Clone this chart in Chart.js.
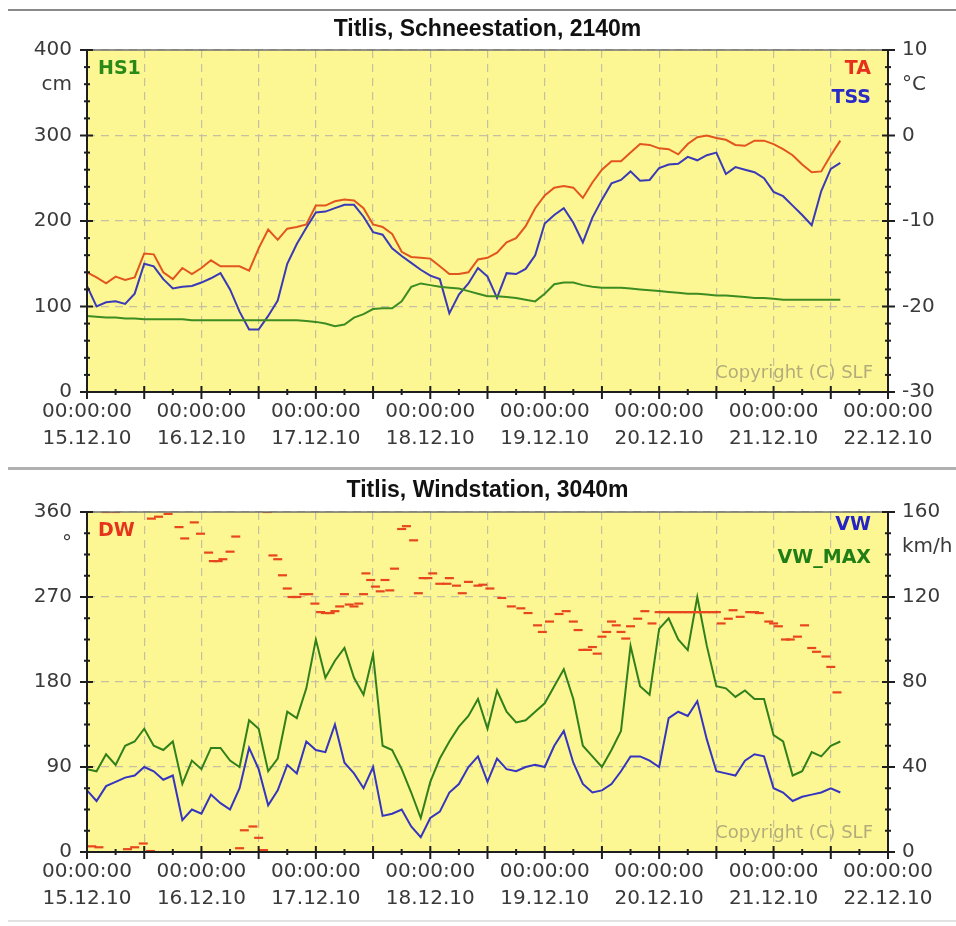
<!DOCTYPE html>
<html>
<head>
<meta charset="utf-8">
<title>Titlis</title>
<script src="https://cdn.jsdelivr.net/npm/chart.js@4.4.1/dist/chart.umd.min.js"></script>
<style>
  html, body { margin: 0; padding: 0; background: #ffffff; }
  body { width: 956px; height: 926px; position: relative; overflow: hidden; }
  .rule { position: absolute; left: 8px; right: 0; }
  #ruleTop { top: 9px; height: 2px; background: #8a8a8a; }
  #ruleMid { top: 467px; height: 3px; background: #b0b0b0; }
  #ruleEnd { top: 920px; height: 2px; background: #e2e2e2; }
  canvas { position: absolute; left: 0; }
  #snowChart { top: 11px; }
  #windChart { top: 471px; }
</style>
</head>
<body>
<div class="rule" id="ruleTop"></div>
<div class="rule" id="ruleMid"></div>
<div class="rule" id="ruleEnd"></div>
<canvas id="snowChart" width="956" height="456"></canvas>
<canvas id="windChart" width="956" height="449"></canvas>
<script>
// Hours between two samples of the station series (first sample: 15.12.10 00:00)
const STEP_H = 2;

// Day labels of the time axis
const dayLabels = ['15.12.10', '16.12.10', '17.12.10', '18.12.10', '19.12.10', '20.12.10', '21.12.10', '22.12.10'];

// Schneestation 2140 m: snow height HS1 [cm]
const hs1 = [89, 88, 87, 87, 86, 86, 85, 85, 85, 85, 85, 84, 84, 84, 84, 84, 84, 84, 84, 84,
             84, 84, 84, 83, 82, 80, 77, 79, 87, 91, 97, 98, 98, 106, 123, 127, 125, 123, 122, 121,
             118, 115, 112, 112, 111, 110, 108, 106, 115, 126, 128, 128, 125, 123, 122, 122, 122, 121, 120, 119,
             118, 117, 116, 115, 115, 114, 113, 113, 112, 111, 110, 110, 109, 108, 108, 108, 108, 108, 108, 108];

// Air temperature TA [°C]
const ta = [-16.0, -16.6, -17.3, -16.5, -16.9, -16.6, -13.8, -13.9, -16.0, -16.8,
            -15.5, -16.2, -15.5, -14.6, -15.3, -15.3, -15.3, -15.8, -13.2, -11.0,
            -12.2, -10.9, -10.7, -10.4, -8.2, -8.2, -7.7, -7.5, -7.6, -8.5,
            -10.4, -10.7, -11.5, -13.6, -14.2, -14.3, -14.4, -15.3, -16.2, -16.2,
            -16.0, -14.5, -14.3, -13.7, -12.5, -12.0, -10.6, -8.5, -7.0, -6.1,
            -5.9, -6.1, -7.3, -5.5, -4.0, -3.0, -3.0, -2.0, -1.0, -1.1,
            -1.5, -1.6, -2.2, -1.0, -0.2, 0.0, -0.3, -0.5, -1.1, -1.2,
            -0.6, -0.6, -1.0, -1.6, -2.3, -3.4, -4.3, -4.2, -2.3, -0.6];

// Snow surface temperature TSS [°C]
const tss = [-17.6, -20.0, -19.5, -19.4, -19.7, -18.5, -15.0, -15.3, -16.8, -17.9,
             -17.7, -17.6, -17.2, -16.7, -16.1, -18.0, -20.6, -22.7, -22.7, -21.1,
             -19.3, -15.0, -12.7, -10.8, -9.0, -8.9, -8.5, -8.1, -8.1, -9.5,
             -11.3, -11.6, -13.2, -14.1, -14.9, -15.7, -16.4, -16.8, -20.8, -18.6,
             -17.3, -15.5, -16.5, -19.0, -16.1, -16.2, -15.6, -14.0, -10.3, -9.3,
             -8.5, -10.2, -12.5, -9.6, -7.5, -5.6, -5.2, -4.2, -5.3, -5.2,
             -3.8, -3.4, -3.3, -2.5, -2.9, -2.3, -2.0, -4.5, -3.7, -4.0,
             -4.3, -5.0, -6.6, -7.1, -8.2, -9.3, -10.5, -6.5, -3.9, -3.2];

// Windstation 3040 m: mean wind speed VW [km/h]
const vw = [29, 24, 31, 33, 35, 36, 40, 38, 34, 36, 15, 20, 18, 27, 23, 20, 30, 49, 39, 22,
            29, 41, 37, 52, 48, 47, 60, 42, 37, 30, 40, 17, 18, 20, 12, 7, 16, 19, 28, 32,
            40, 45, 33, 44, 39, 38, 40, 41, 40, 50, 57, 42, 32, 28, 29, 32, 38, 45, 45, 43,
            40, 63, 66, 64, 71, 53, 38, 37, 36, 43, 46, 45, 30, 28, 24, 26, 27, 28, 30, 28];

// Gust speed VW_MAX [km/h]
const vwMax = [39, 38, 46, 41, 50, 52, 58, 50, 48, 52, 32, 43, 39, 49, 49, 43, 40, 62, 58, 38,
               44, 66, 63, 77, 100, 82, 90, 96, 82, 74, 93, 50, 48, 39, 28, 16, 33, 44, 52, 59,
               64, 72, 58, 76, 66, 61, 62, 66, 70, 78, 86, 72, 50, 45, 40, 48, 57, 97, 78, 74,
               105, 110, 100, 95, 120, 97, 78, 77, 73, 76, 72, 72, 55, 52, 36, 38, 47, 45, 50, 52];

// Wind direction DW: time of each reading [h] and direction [°]
const dwHours = [1, 2.5, 4, 6, 8.5, 10, 11.8, 13.3, 13.5, 15, 17, 19.3, 20.5, 22.5, 23.8, 25.5, 26.5, 27.5, 28.5, 30,
                 31.2, 32, 33, 34.8, 36, 37, 37.8, 39, 40, 41, 42, 43, 44, 45.5, 46.5, 47.8, 49, 50, 51, 52,
                 53, 54, 55, 56, 57, 58, 58.5, 59.5, 60.5, 61.5, 62.5, 63.5, 64.5, 66, 67, 68.5, 69.5, 70.5, 71.5, 72.5,
                 74, 75.5, 76, 77.5, 78.7, 80, 82, 83, 84.5, 87, 89, 91, 92.5, 94.5, 95.5, 97, 99, 100.5, 102, 103,
                 104, 105, 106, 107, 108, 109, 110, 111, 112, 113, 114, 115.5, 117, 118.5, 120, 121, 122, 123, 124, 125,
                 126, 127, 128, 129, 130, 131, 132, 133, 134.5, 135.5, 137, 139, 140, 141, 143, 144, 145, 146.5, 147.5, 149,
                 150.5, 152, 153, 155, 156, 157.3];
const dwDeg = [6, 5, 360, 360, 3, 5, 9, 1, 353, 355, 358, 344, 332, 349, 337, 317, 308, 308, 310, 318,
               334, 4, 23, 27, 15, 2, 360, 314, 310, 293, 279, 270, 270, 273, 273, 263, 254, 253, 253, 255,
               260, 273, 262, 260, 263, 273, 295, 288, 281, 276, 288, 277, 300, 342, 345, 330, 274, 290, 290, 295,
               284, 284, 290, 282, 274, 286, 282, 283, 279, 269, 260, 258, 253, 240, 233, 244, 252, 255, 244, 235,
               214, 214, 217, 210, 228, 233, 244, 240, 233, 226, 239, 247, 255, 242, 254, 254, 254, 254, 254, 254,
               254, 254, 254, 254, 254, 254, 254, 242, 247, 256, 249, 254, 254, 253, 244, 242, 239, 225, 225, 228,
               240, 216, 212, 207, 196, 169];

const series = vals => vals.map((v, i) => ({ x: i * STEP_H, y: v }));
const dwPoints = dwHours.map((h, i) => ({ x: h, y: dwDeg[i] }));

const TICK_FONT = { family: 'DejaVu Sans', size: 20, lineHeight: 1.375 };
const LABEL_FONT = 'bold 19px "DejaVu Sans"';
const GRID_COLOR = '#c4c0a0';
const PLOT_COLOR = '#fcf793';

// Yellow plot area, frame, axis tick marks, series names and units
const stationFrame = {
  id: 'stationFrame',
  beforeDraw(chart, _args, o) {
    const { ctx, chartArea: a } = chart;
    ctx.save();
    ctx.fillStyle = o.plotColor;
    ctx.fillRect(a.left, a.top, a.right - a.left, a.bottom - a.top);
    ctx.restore();
  },
  afterDraw(chart, _args, o) {
    const { ctx, chartArea: a, scales } = chart;
    const seg = (x1, y1, x2, y2) => { ctx.beginPath(); ctx.moveTo(x1, y1); ctx.lineTo(x2, y2); ctx.stroke(); };
    ctx.save();
    ctx.lineCap = 'butt';
    ctx.strokeStyle = '#707070';
    ctx.lineWidth = 1.5;
    seg(a.left, a.top, a.right, a.top);
    ctx.strokeStyle = '#1e1e1e';
    ctx.lineWidth = 2;
    seg(a.left, a.top - 1, a.left, a.bottom + 1);
    seg(a.right, a.top - 1, a.right, a.bottom + 1);
    seg(a.left - 1, a.bottom, a.right + 1, a.bottom);

    const marks = (scale, step, major, draw) => {
      const n = Math.round((scale.max - scale.min) / step);
      for (let i = 0; i <= n; i++) {
        const v = scale.min + i * step;
        const r = v / major;
        draw(scale.getPixelForValue(v), Math.abs(r - Math.round(r)) < 1e-6);
      }
    };
    const m = o.minor;
    marks(scales.x, m.x, m.xMajor, (p, big) => seg(p, a.bottom - (big ? 6 : 3), p, a.bottom + (big ? 7 : 3)));
    marks(scales.y, m.y, m.yMajor, (p, big) => seg(a.left - (big ? 7 : 3), p, a.left + (big ? 6 : 3), p));
    marks(scales.y1, m.y1, m.y1Major, (p, big) => seg(a.right - (big ? 6 : 3), p, a.right + (big ? 7 : 3), p));

    ctx.textBaseline = 'middle';
    for (const t of o.texts) {
      ctx.font = t.font;
      ctx.fillStyle = t.color;
      ctx.textAlign = t.align;
      const x = (t.ax === 'left' ? a.left : a.right) + t.dx;
      const y = (t.ay === 'top' ? a.top : a.bottom) + t.dy;
      ctx.fillText(t.text, x, y);
    }
    ctx.restore();
  }
};

function timeAxis(height) {
  return {
    type: 'linear', position: 'bottom', min: 0, max: 168,
    afterFit: s => { s.height = height; },
    grid: { color: GRID_COLOR, lineWidth: 1.2, drawTicks: false },
    border: { display: false, dash: [8, 6] },
    ticks: {
      stepSize: 12, autoSkip: false, maxRotation: 0, minRotation: 0, padding: 6,
      color: '#3a3a3a', font: TICK_FONT,
      callback: v => (v % 24 === 0 ? ['00:00:00', dayLabels[v / 24]] : '')
    }
  };
}

function leftAxis(min, max, step) {
  return {
    type: 'linear', position: 'left', min, max,
    afterFit: s => { s.width = 87; },
    grid: { color: GRID_COLOR, lineWidth: 1.2, drawTicks: false },
    border: { display: false, dash: [8, 6] },
    ticks: { stepSize: step, padding: 15, color: '#3a3a3a', font: TICK_FONT }
  };
}

function rightAxis(min, max, step) {
  return {
    type: 'linear', position: 'right', min, max,
    afterFit: s => { s.width = 68; },
    grid: { display: false, drawTicks: false },
    border: { display: false },
    ticks: { stepSize: step, padding: 14, color: '#3a3a3a', font: TICK_FONT }
  };
}

function titleOpts(text, padTop, padBottom) {
  return {
    display: true, text, fullSize: false, color: '#111111',
    font: { family: 'Liberation Sans', size: 23, weight: 'bold', lineHeight: 1.2 },
    padding: { top: padTop, bottom: padBottom }
  };
}

const lineStyle = { pointRadius: 0, borderWidth: 2, tension: 0, fill: false };

new Chart(document.getElementById('snowChart'), {
  type: 'line',
  data: {
    datasets: [
      { label: 'HS1', data: series(hs1), yAxisID: 'y', borderColor: '#3d8c22', ...lineStyle },
      { label: 'TSS', data: series(tss), yAxisID: 'y1', borderColor: '#3a3ab6', ...lineStyle },
      { label: 'TA', data: series(ta), yAxisID: 'y1', borderColor: '#e2561e', ...lineStyle }
    ]
  },
  options: {
    responsive: false, animation: false, devicePixelRatio: 1,
    layout: { padding: 0 },
    scales: { x: timeAxis(75), y: leftAxis(0, 400, 100), y1: rightAxis(-30, 10, 10) },
    plugins: {
      legend: { display: false }, tooltip: { enabled: false },
      title: titleOpts('Titlis, Schneestation, 2140m', 5.2, 6.2),
      stationFrame: {
        plotColor: PLOT_COLOR,
        minor: { x: 6, xMajor: 12, y: 20, yMajor: 100, y1: 2, y1Major: 10 },
        texts: [
          { text: 'HS1', font: LABEL_FONT, color: '#2a8a18', align: 'left', ax: 'left', dx: 11, ay: 'top', dy: 19.5 },
          { text: 'TA', font: LABEL_FONT, color: '#e6301c', align: 'right', ax: 'right', dx: -17, ay: 'top', dy: 19 },
          { text: 'TSS', font: LABEL_FONT, color: '#2a2ac6', align: 'right', ax: 'right', dx: -17, ay: 'top', dy: 48 },
          { text: 'cm', font: '20px "DejaVu Sans"', color: '#3a3a3a', align: 'right', ax: 'left', dx: -15, ay: 'top', dy: 35 },
          { text: '°C', font: '20px "DejaVu Sans"', color: '#3a3a3a', align: 'left', ax: 'right', dx: 14, ay: 'top', dy: 35 },
          { text: 'Copyright (C) SLF', font: '18px "DejaVu Sans"', color: '#b3ac7a', align: 'right', ax: 'right', dx: -15, ay: 'bottom', dy: -19 }
        ]
      }
    }
  },
  plugins: [stationFrame]
});

new Chart(document.getElementById('windChart'), {
  type: 'line',
  data: {
    datasets: [
      { label: 'DW', data: dwPoints, yAxisID: 'y', showLine: false, pointStyle: 'line', pointRadius: 4.5,
        pointBorderWidth: 2.2, pointBorderColor: '#e8461e', pointBackgroundColor: '#e8461e' },
      { label: 'VW', data: series(vw), yAxisID: 'y1', borderColor: '#3535bf', ...lineStyle },
      { label: 'VW_MAX', data: series(vwMax), yAxisID: 'y1', borderColor: '#32801c', ...lineStyle }
    ]
  },
  options: {
    responsive: false, animation: false, devicePixelRatio: 1,
    layout: { padding: 0 },
    scales: { x: timeAxis(68), y: leftAxis(0, 360, 90), y1: rightAxis(0, 160, 40) },
    plugins: {
      legend: { display: false }, tooltip: { enabled: false },
      title: titleOpts('Titlis, Windstation, 3040m', 6.2, 7.2),
      stationFrame: {
        plotColor: PLOT_COLOR,
        minor: { x: 6, xMajor: 12, y: 22.5, yMajor: 90, y1: 10, y1Major: 40 },
        texts: [
          { text: 'DW', font: LABEL_FONT, color: '#e6341c', align: 'left', ax: 'left', dx: 11, ay: 'top', dy: 19.5 },
          { text: 'VW', font: LABEL_FONT, color: '#2424c6', align: 'right', ax: 'right', dx: -17, ay: 'top', dy: 13 },
          { text: 'VW_MAX', font: LABEL_FONT, color: '#207e16', align: 'right', ax: 'right', dx: -17, ay: 'top', dy: 46 },
          { text: '°', font: '20px "DejaVu Sans"', color: '#3a3a3a', align: 'right', ax: 'left', dx: -15, ay: 'top', dy: 32 },
          { text: 'km/h', font: '20px "DejaVu Sans"', color: '#3a3a3a', align: 'left', ax: 'right', dx: 14, ay: 'top', dy: 35 },
          { text: 'Copyright (C) SLF', font: '18px "DejaVu Sans"', color: '#b3ac7a', align: 'right', ax: 'right', dx: -15, ay: 'bottom', dy: -19 }
        ]
      }
    }
  },
  plugins: [stationFrame]
});
</script>
</body>
</html>
